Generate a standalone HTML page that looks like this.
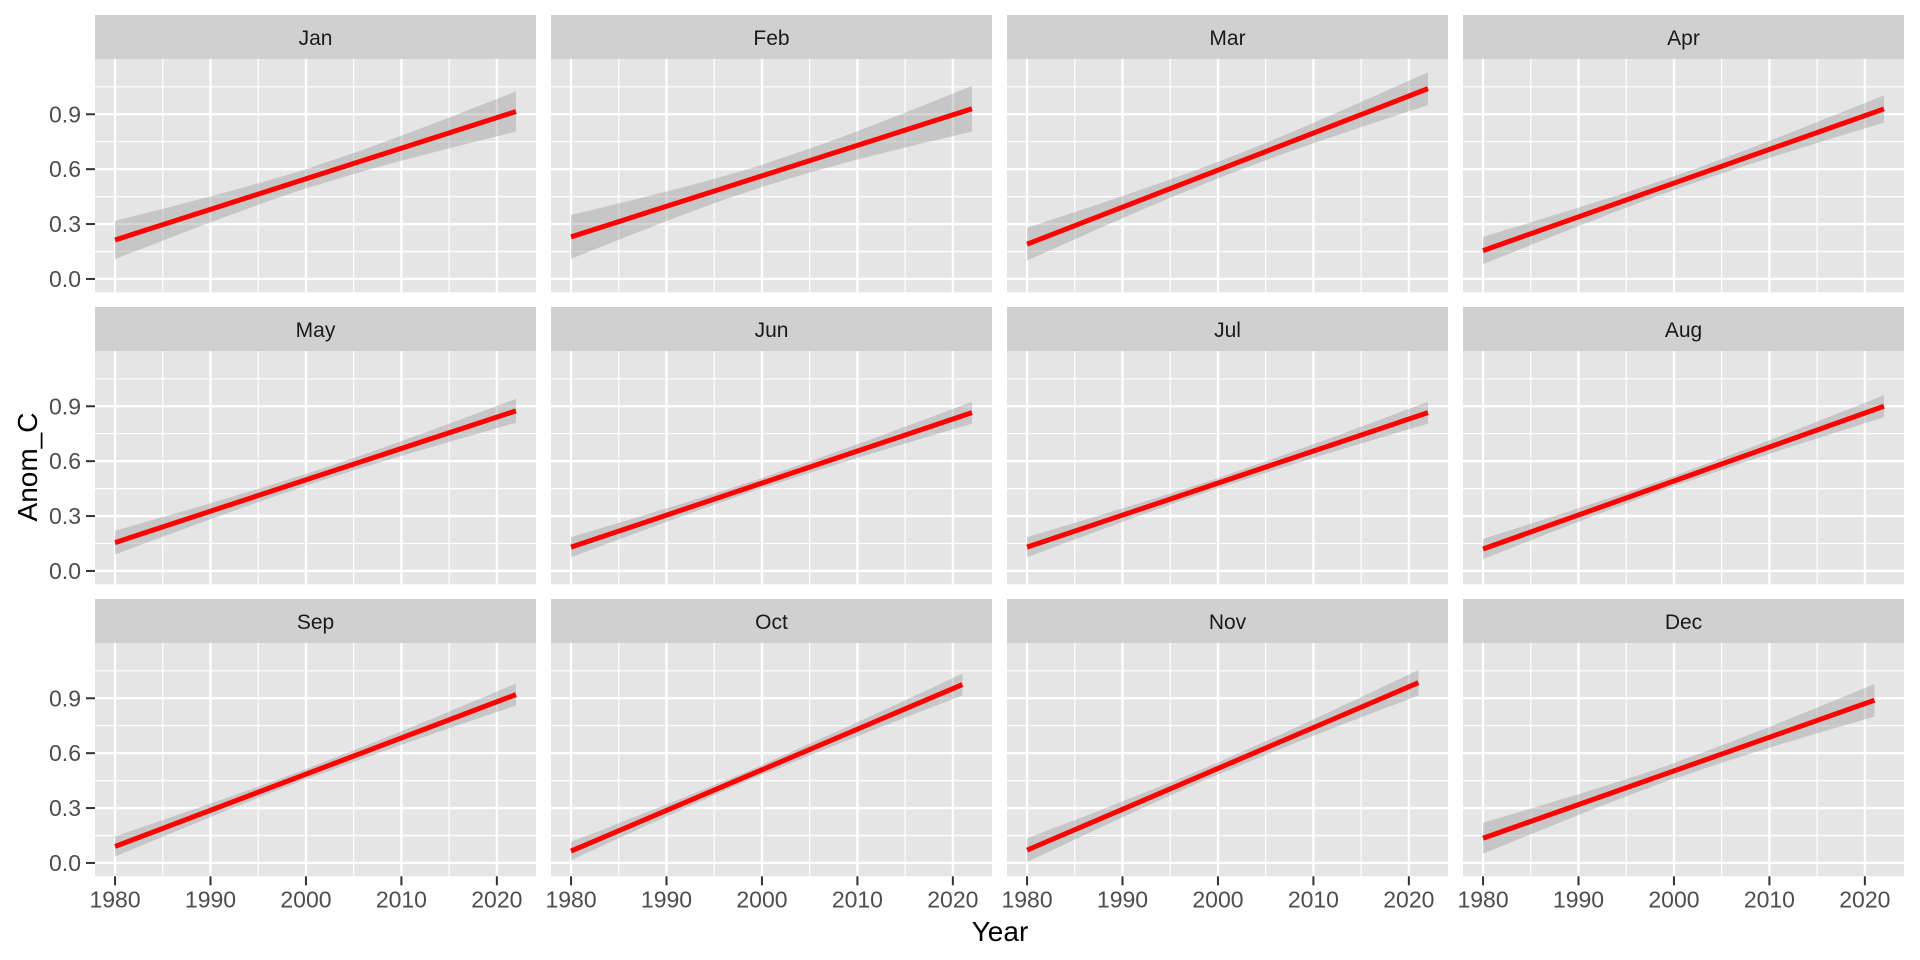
<!DOCTYPE html>
<html><head><meta charset="utf-8"><style>
html,body{margin:0;padding:0;background:#fff;}
svg{display:block;}
text{font-family:"Liberation Sans",Arial,sans-serif;}
</style></head><body>
<svg id="chart" width="1920" height="960" viewBox="0 0 1920 960" xmlns="http://www.w3.org/2000/svg">
<text x="0" y="0" transform="translate(37,467) rotate(-90)" text-anchor="middle" font-size="28" fill="#000">Anom_C</text>
<text x="1000" y="941" text-anchor="middle" font-size="28" fill="#000">Year</text>
</svg>
<script>
const months = ["Jan","Feb","Mar","Apr","May","Jun","Jul","Aug","Sep","Oct","Nov","Dec"];
const startYear = [1980,1980,1980,1980,1980,1980,1980,1980,1980,1980,1980,1980];
const endYear = [2022,2022,2022,2022,2022,2022,2022,2022,2022,2021,2021,2021];
const startValue = [0.213,0.23,0.19,0.155,0.155,0.13,0.13,0.12,0.09,0.065,0.07,0.135];
const endValue = [0.915,0.93,1.04,0.929,0.875,0.865,0.865,0.90,0.92,0.975,0.985,0.889];
const startHalfWidth = [0.105,0.12,0.09,0.075,0.065,0.055,0.055,0.055,0.055,0.05,0.065,0.085];
const endHalfWidth = [0.11,0.125,0.09,0.075,0.065,0.06,0.06,0.06,0.06,0.06,0.07,0.089];
const xTicks = [1980,1990,2000,2010,2020];
const xMinor = [1985,1995,2005,2015];
const yTicks = [0.0,0.3,0.6,0.9];
const yTickLabels = ["0.0","0.3","0.6","0.9"];
const yMinor = [0.15,0.45,0.75,1.05];

const svg = document.getElementById('chart');
const NS = 'http://www.w3.org/2000/svg';
const PW = 441, PH = 233.3, COLP = 456, ROWP = 292, L0 = 95, T0 = 59, STRIP = 44;
const XMIN = 1977.9, XMAX = 2024.1, YMIN = -0.073, YMAX = 1.202;
function mk(tag, attrs){const e=document.createElementNS(NS,tag);for(const k in attrs)e.setAttribute(k,attrs[k]);svg.appendChild(e);return e;}
function xs(c,v){return L0+c*COLP+(v-XMIN)/(XMAX-XMIN)*PW;}
function ys(r,v){return T0+r*ROWP+PH-(v-YMIN)/(YMAX-YMIN)*PH;}

months.forEach((m,i)=>{
  const c=i%4, r=Math.floor(i/4);
  const px=L0+c*COLP, py=T0+r*ROWP;
  const strip=mk('rect',{x:px,y:py-STRIP,width:PW,height:STRIP,fill:'#d0d0d0'});
  
  
  const st=mk('text',{x:px+PW/2,y:py-STRIP/2+8,'text-anchor':'middle','font-size':'21',fill:'#1a1a1a'});
  st.textContent=m;
  
  
  const bg=mk('rect',{x:px,y:py,width:PW,height:PH,fill:'#e5e5e5'});
  
  
  yMinor.forEach(v=>{const g=mk('line',{x1:px,x2:px+PW,y1:ys(r,v),y2:ys(r,v),stroke:'#fff','stroke-width':1.2});
    });
  xMinor.forEach(v=>{const g=mk('line',{x1:xs(c,v),x2:xs(c,v),y1:py,y2:py+PH,stroke:'#fff','stroke-width':1.2});
    });
  yTicks.forEach(v=>{const g=mk('line',{x1:px,x2:px+PW,y1:ys(r,v),y2:ys(r,v),stroke:'#fff','stroke-width':2.3});
    });
  xTicks.forEach(v=>{const g=mk('line',{x1:xs(c,v),x2:xs(c,v),y1:py,y2:py+PH,stroke:'#fff','stroke-width':2.3});
    });
  const x0=startYear[i], x1=endYear[i], mid=(x0+x1)/2, half=(x1-x0)/2;
  const n=25, up=[], lo=[];
  for(let k=0;k<=n;k++){
    const yr=x0+(x1-x0)*k/n;
    const t=(yr-mid)/half;
    const fit=startValue[i]+(endValue[i]-startValue[i])*(yr-x0)/(x1-x0);
    const edge=t<0?startHalfWidth[i]:endHalfWidth[i];
    const h=edge*Math.sqrt(0.25+0.75*t*t);
    up.push(xs(c,yr).toFixed(1)+','+ys(r,fit+h).toFixed(1));
    lo.unshift(xs(c,yr).toFixed(1)+','+ys(r,fit-h).toFixed(1));
  }
  const band=mk('polygon',{points:up.concat(lo).join(' '),fill:'#999999','fill-opacity':0.4});
  
  
  const ln=mk('line',{x1:xs(c,x0),y1:ys(r,startValue[i]),x2:xs(c,x1),y2:ys(r,endValue[i]),stroke:'#ff0000','stroke-width':5});
  
  
  if(c===0){
    yTicks.forEach((v,j)=>{
      const tk=mk('line',{x1:px-9,x2:px,y1:ys(r,v),y2:ys(r,v),stroke:'#333','stroke-width':2});
      
      const tl=mk('text',{x:px-14,y:ys(r,v)+8,'text-anchor':'end','font-size':'23',fill:'#4d4d4d'});
      tl.textContent=yTickLabels[j];
      
    });
  }
  if(r===2){
    xTicks.forEach(v=>{
      const tk=mk('line',{x1:xs(c,v),x2:xs(c,v),y1:py+PH,y2:py+PH+9,stroke:'#333','stroke-width':2});
      
      const tl=mk('text',{x:xs(c,v),y:py+PH+31,'text-anchor':'middle','font-size':'23',fill:'#4d4d4d'});
      tl.textContent=String(v);
      
    });
  }
});
</script>
</body></html>
